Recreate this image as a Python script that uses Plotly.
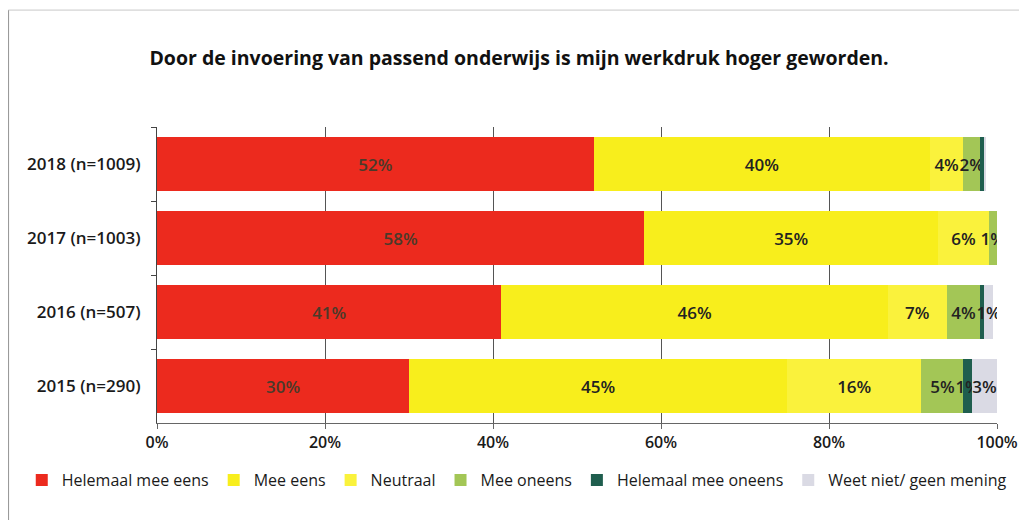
import plotly.graph_objects as go

years = ["2018 (n=1009)", "2017 (n=1003)", "2016 (n=507)", "2015 (n=290)"]
series_names = ["Helemaal mee eens", "Mee eens", "Neutraal", "Mee oneens",
                "Helemaal mee oneens", "Weet niet/ geen mening"]
helemaal_mee_eens = [52, 58, 41, 30]
mee_eens = [40, 35, 46, 45]
neutraal = [4, 6, 7, 16]
mee_oneens = [2, 1, 4, 5]
helemaal_mee_oneens = [0.5, 0.3, 0.5, 1]
weet_niet = [0.2, 0, 1, 3]
x_ticks = [0, 20, 40, 60, 80, 100]

series_values = [helemaal_mee_eens, mee_eens, neutraal, mee_oneens,
                 helemaal_mee_oneens, weet_niet]
colors = ["#EC2A1E", "#F8EE1C", "#FAF23C", "#A3C656", "#1F5E4E", "#DADAE4"]
text_colors = ["#4a3a2a", "#222222", "#222222", "#222222", "#222222", "#222222"]

FONT = "Open Sans"

fig = go.Figure()
for name, vals, col, tcol in zip(series_names, series_values, colors, text_colors):
    fig.add_trace(go.Bar(
        y=years, x=vals, name=name, orientation="h",
        marker=dict(color=col, line=dict(width=0)),
        text=[f"{v:g}%" if v >= 1 else "" for v in vals],
        textposition="inside", insidetextanchor="middle", textangle=0,
        constraintext="none",
        textfont=dict(family=FONT, size=17, color=tcol, weight=600),
        hoverinfo="skip",
    ))

fig.update_layout(
    barmode="stack",
    bargap=0.26,
    width=1027, height=520,
    margin=dict(l=149, r=38, t=119, b=105),
    paper_bgcolor="white", plot_bgcolor="white",
    uniformtext=dict(minsize=16, mode="show"),
    title=dict(
        text="Door de invoering van passend onderwijs is mijn werkdruk hoger geworden.",
        x=0.4976, xanchor="center", y=0.904, yanchor="middle",
        font=dict(family=FONT, size=19.5, color="#111111", weight=700),
    ),
    legend=dict(
        orientation="h", x=-0.161, xanchor="left", y=-0.193, yanchor="middle",
        font=dict(family=FONT, size=16, color="#1a1a1a"),
        itemwidth=30, traceorder="normal", tracegroupgap=0,
    ),
    showlegend=True,
    shapes=[
        dict(type="line", xref="paper", yref="paper", x0=-0.177, x1=-0.177,
             y0=-0.4, y1=1.395, line=dict(color="#9a9a9a", width=1.5)),
        dict(type="line", xref="paper", yref="paper", x0=-0.177, x1=1.1,
             y0=1.395, y1=1.395, line=dict(color="#c8c8c8", width=1)),
    ],
)

fig.update_xaxes(
    range=[0, 100], tickvals=x_ticks, ticktext=[f"{t}%" for t in x_ticks],
    showgrid=True, gridcolor="#555555", gridwidth=1,
    showline=True, linecolor="#666666", linewidth=1,
    ticks="outside", ticklen=5, tickcolor="#666666",
    tickfont=dict(family=FONT, size=16, color="#1a1a1a", weight=600),
    zeroline=False, fixedrange=True,
)
fig.update_yaxes(
    categoryorder="array", categoryarray=years, autorange="reversed",
    showline=True, linecolor="#444444", linewidth=1,
    ticks="outside", ticklen=5, tickcolor="#444444", tickson="boundaries",
    tickfont=dict(family=FONT, size=17, color="#1a1a1a", weight=600),
    ticklabelstandoff=12, showgrid=False, fixedrange=True,
)

fig.write_html("out.html")
